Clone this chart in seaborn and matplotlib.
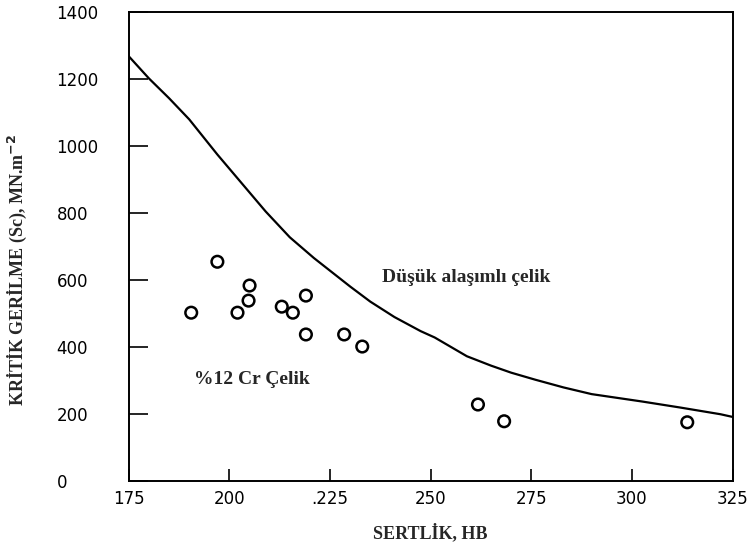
import numpy as np
import pandas as pd
import matplotlib
matplotlib.use("Agg")
import matplotlib.pyplot as plt
import seaborn as sns

# Low-alloy steel curve
curve_hb = [175, 180, 185, 190, 197, 203, 209, 215, 221, 230, 235, 241,
            247.5, 251, 259, 265, 270, 276, 283, 290, 302.5, 312, 322, 325]
curve_sc = [1268, 1202, 1143, 1080, 975, 890, 805, 728, 666, 581, 536, 490,
            448, 429, 373, 345, 324, 303, 280, 260, 238, 220, 200, 192]

# %12 Cr steel test points
cr_hb = [190.5, 197, 205, 204.75, 202, 213, 215.75, 219, 219, 228.5, 233,
         261.75, 268.25, 313.75]
cr_sc = [503, 655, 584, 539, 503, 521, 503, 554, 438, 438, 402, 229, 179, 176]

x_ticks = [175, 200, 225, 250, 275, 300, 325]
x_tick_labels = ["175", "200", ".225", "250", "275", "300", "325"]
y_ticks = [0, 200, 400, 600, 800, 1000, 1200, 1400]

sns.set_style("white")
plt.rcParams["font.family"] = ["DejaVu Sans"]

fig = plt.figure(figsize=(7.49, 5.5), dpi=100)
ax = fig.add_axes([0.172, 0.125, 0.806, 0.853])

curve = pd.DataFrame({"hb": curve_hb, "sc": curve_sc})
points = pd.DataFrame({"hb": cr_hb, "sc": cr_sc})

sns.lineplot(data=curve, x="hb", y="sc", sort=False, color="black",
             linewidth=1.6, ax=ax)
sns.scatterplot(data=points, x="hb", y="sc", s=70, facecolors="none",
                edgecolor="black", linewidth=1.8, ax=ax)

ax.set_xlim(175, 325)
ax.set_ylim(0, 1400)
ax.set_xticks(x_ticks)
ax.set_xticklabels(x_tick_labels, fontsize=12)
ax.set_yticks(y_ticks)
ax.set_yticklabels([str(v) for v in y_ticks], fontsize=12, ha="left")

ax.tick_params(axis="y", left=True, direction="in", length=14, width=1.2,
               pad=52, colors="black")
ax.tick_params(axis="x", bottom=True, direction="in", length=9, width=1.2,
               pad=6, colors="black")
for sp in ax.spines.values():
    sp.set_color("black")
    sp.set_linewidth(1.4)

serif = ["Liberation Serif", "DejaVu Serif"]
ax.set_xlabel("SERTLİK, HB", fontsize=13, fontweight="bold", family=serif)
ax.set_ylabel("KRİTİK GERİLME (Sc), MN.m$^{\\mathbf{-2}}$", fontsize=13,
              fontweight="bold", family=serif)
ax.xaxis.set_label_coords(0.5, -0.09)
ax.yaxis.set_label_coords(-0.165, 0.45)

ax.text(238, 608, "Düşük alaşımlı çelik", fontsize=14, fontweight="bold",
        family=serif, va="center", ha="left")
ax.text(191.25, 304, "%12 Cr Çelik", fontsize=14, fontweight="bold",
        family=serif, va="center", ha="left")

fig.savefig("out.png", dpi=100)
